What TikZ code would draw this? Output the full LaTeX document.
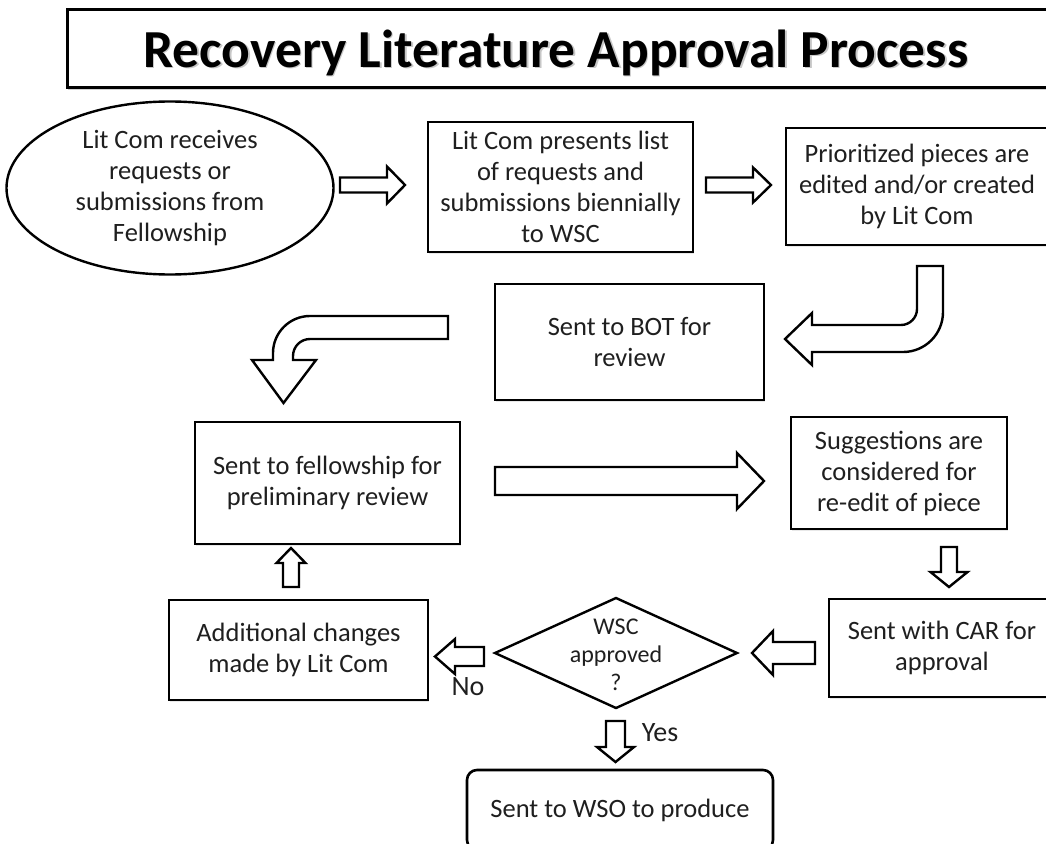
\documentclass[tikz,border=0pt]{standalone}
\usepackage{fontspec}
\setmainfont{Carlito}
\usetikzlibrary{shapes.geometric,shadows}
\newcommand{\hblk}[6]{\draw[blk] (#1,#4-#5) -- (#3,#4-#5) -- (#3,#4-#6) -- (#2,#4) -- (#3,#4+#6) -- (#3,#4+#5) -- (#1,#4+#5) -- cycle;}
\newcommand{\vblk}[6]{\draw[blk] (#4-#5,#1) -- (#4-#5,#3) -- (#4-#6,#3) -- (#4,#2) -- (#4+#6,#3) -- (#4+#5,#3) -- (#4+#5,#1) -- cycle;}
\begin{document}
\begin{tikzpicture}[x=1pt,y=-1pt,
  txt/.style={font=\fontsize{26.5}{31}\selectfont, align=center, text=black!88},
  shd/.style={drop shadow={shadow xshift=1pt,shadow yshift=-1.5pt,fill=black!18}},
  box/.style={txt, draw, line width=2.6pt, rectangle, inner sep=0pt, fill=white, shd},
  blk/.style={draw, line width=2.4pt, fill=white, line join=miter},
  lbl/.style={font=\fontsize{28}{32}\selectfont, text=black!88, inner sep=0pt},
]
\useasboundingbox (0,0) rectangle (1046,843);

% title
\node[draw, line width=3pt, fill=white, minimum width=983pt, minimum height=77pt, inner sep=0pt,
      drop shadow={shadow xshift=1pt,shadow yshift=-3pt,fill=black!35}] (title) at (558.5,48.5) {};
\node[anchor=base, font=\fontsize{53.5}{58}\bfseries, text=black!22, inner sep=0pt] (ttlshadow) at (557.5,68.5) {Recovery Literature Approval Process};
\node[anchor=base, font=\fontsize{53.5}{58}\bfseries, text=black, inner sep=0pt] (ttl) at (556,67) {Recovery Literature Approval Process};

% nodes
\node[txt, ellipse, draw, line width=2.4pt, inner sep=0pt, minimum width=327pt, minimum height=173pt, fill=white] (ell) at (170,188)
  {Lit Com receives\\ requests or\\ submissions from\\ Fellowship};
\node[box, minimum width=265pt, minimum height=130pt] (b2) at (560.5,187)
  {Lit Com presents list\\ of requests and\\ submissions biennially\\ to WSC};
\node[box, minimum width=262pt, minimum height=117pt] (b3) at (917,186.5)
  {Prioritized pieces are\\ edited and/or created\\ by Lit Com};
\node[box, minimum width=269pt, minimum height=116pt] (bot) at (629.5,342)
  {Sent to BOT for\\ review};
\node[box, minimum width=265pt, minimum height=122pt] (fel) at (327.5,483)
  {Sent to fellowship for\\ preliminary review};
\node[box, minimum width=216pt, minimum height=112pt] (sug) at (899,473)
  {Suggestions are\\ considered for\\ re-edit of piece};
\node[box, minimum width=226pt, minimum height=98pt] (car) at (942,648)
  {Sent with CAR for\\ approval};
\node[box, minimum width=259pt, minimum height=100pt] (add) at (298.5,650)
  {Additional changes\\ made by Lit Com};
\node[box, rounded corners=10pt, minimum width=306pt, minimum height=80pt] (wso) at (620,810)
  {Sent to WSO to produce};

% decision diamond
\coordinate (dT) at (616,598);
\coordinate (dR) at (737,653);
\coordinate (dB) at (616,708);
\coordinate (dL) at (495,653);
\draw[line width=2.4pt, line join=miter, fill=white] (dT) -- (dR) -- (dB) -- (dL) -- cycle;
\node[txt, font=\fontsize{24}{28}\selectfont] (dia) at (616,655) {WSC\\ approved\\ ?};

% straight block arrows
\hblk{340}{405}{387}{185}{7.5}{18.5}
\hblk{706}{771}{753}{185}{7.5}{17.5}
\hblk{495}{764}{737}{481}{14}{28}
\vblk{547}{587}{572}{949}{8}{18.5}
\hblk{815}{752}{773}{653}{11}{22}
\hblk{484}{435}{455}{656.5}{9.5}{17.5}
\vblk{721}{762}{747}{615.5}{9.5}{18.5}
\vblk{587}{548}{563}{291}{8}{14.5}

% bent arrow b3 -> bot
\draw[blk] (917,266) -- (943,266) -- (943,312)
  .. controls (943,334.1) and (925.1,352) .. (903,352)
  -- (812,352) -- (812,365) -- (785,339) -- (812,313) -- (812,325) -- (901,325)
  .. controls (909.8,325) and (917,317.8) .. (917,309) -- cycle;

% bent arrow bot -> fel
\draw[blk] (448,316) -- (310,316)
  .. controls (289.6,316) and (273,332.6) .. (273,353)
  -- (273,360) -- (252,360) -- (283.5,403) -- (316,360) -- (293,360) -- (293,356)
  .. controls (293,346.6) and (300.6,339) .. (310,339)
  -- (448,339) -- cycle;

% labels
\node[lbl] (no) at (468,687) {No};
\node[lbl] (yes) at (660,732.5) {Yes};
\end{tikzpicture}
\end{document}
